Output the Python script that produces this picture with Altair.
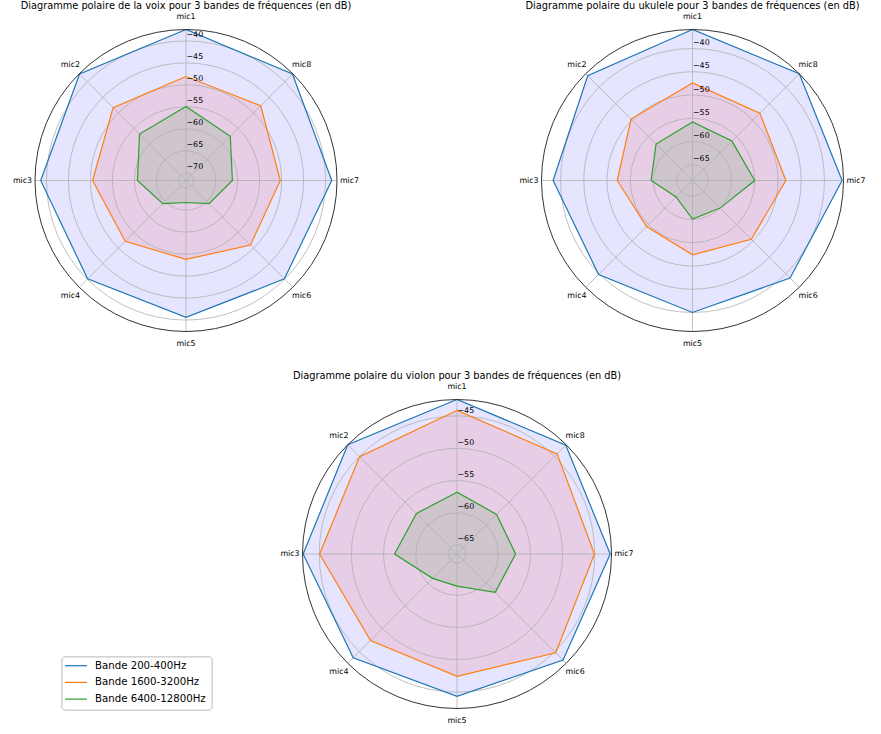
import altair as alt
import pandas as pd

# ---- data -------------------------------------------------------------
mics = ["mic1", "mic2", "mic3", "mic4", "mic5", "mic6", "mic7", "mic8"]
bands = ["Bande 200-400Hz", "Bande 1600-3200Hz", "Bande 6400-12800Hz"]
titles = [
    "Diagramme polaire de la voix pour 3 bandes de fréquences (en dB)",
    "Diagramme polaire du ukulele pour 3 bandes de fréquences (en dB)",
    "Diagramme polaire du violon pour 3 bandes de fréquences (en dB)",
]

# niveaux en dB, de mic1 à mic8
voix_200_400 = [-37.4, -37.5, -38.7, -40.1, -40.6, -40.1, -38.6, -37.5]
voix_1600_3200 = [-48.1, -48.3, -50.5, -52.2, -53.8, -51.0, -50.3, -47.7]
voix_6400_12800 = [-54.9, -56.8, -60.7, -64.3, -66.75, -64.3, -61.2, -57.5]

ukulele_200_400 = [-35.9, -36.5, -38.4, -39.8, -40.0, -38.7, -36.2, -35.9]
ukulele_1600_3200 = [-47.4, -49.7, -52.2, -54.4, -52.4, -50.5, -48.3, -47.9]
ukulele_6400_12800 = [-55.8, -57.3, -59.5, -63.4, -60.1, -60.0, -55.0, -56.4]

violon_200_400 = [-42.4, -42.4, -42.5, -43.6, -44.3, -43.1, -42.6, -42.5]
violon_1600_3200 = [-44.1, -45.0, -45.05, -47.4, -47.4, -44.7, -45.05, -44.4]
violon_6400_12800 = [-56.8, -57.5, -56.7, -61.05, -61.4, -58.0, -57.3, -57.7]

radial_ticks = [
    [-70, -65, -60, -55, -50, -45, -40],
    [-65, -60, -55, -50, -45, -40],
    [-65, -60, -55, -50, -45],
]

levels = [
    [voix_200_400, voix_1600_3200, voix_6400_12800],
    [ukulele_200_400, ukulele_1600_3200, ukulele_6400_12800],
    [violon_200_400, violon_1600_3200, violon_6400_12800],
]

# ---- layout -----------------------------------------------------------
W, H = 881, 734
centers = [(186, 180.5), (692.5, 180.5), (457, 554)]
radii = [151, 151, 154.5]
line_colors = ["#1f77b4", "#ff7f0e", "#2ca02c"]
fill_colors = ["#0000ff", "#ff0000", "#008000"]
FONT = "DejaVu Sans"

poly_rows, ring_rows, spoke_rows, panel_rows = [], [], [], []
for p, series in enumerate(levels):
    vmin = min(min(s) for s in series)
    vmax = max(max(s) for s in series)
    geo = dict(panel=p, cx=centers[p][0], cy=centers[p][1], R=radii[p],
               rmin=vmin - 5, rmax=vmax)
    for band, vals in zip(bands, series):
        for i, (m, v) in enumerate(zip(mics, vals)):
            poly_rows.append(dict(geo, band=band, mic=m, idx=i, value=v))
    for t in radial_ticks[p]:
        ring_rows.append(dict(geo, tick=t, label="\u2212" + str(abs(t))))
    for i, m in enumerate(mics):
        spoke_rows.append(dict(geo, mic=m, idx=i))
    panel_rows.append(dict(geo, title=titles[p]))

poly = pd.DataFrame(poly_rows)
rings = pd.DataFrame(ring_rows)
spokes = pd.DataFrame(spoke_rows)
panels = pd.DataFrame(panel_rows)
legend_df = pd.DataFrame({"band": bands, "row": range(len(bands))})


def X(field):
    return alt.X(f"{field}:Q", scale=alt.Scale(domain=[0, W], nice=False, zero=False), axis=None)


def Y(field):
    return alt.Y(f"{field}:Q", scale=alt.Scale(domain=[0, H], nice=False, zero=False, reverse=True), axis=None)


band_stroke = alt.Stroke("band:N", scale=alt.Scale(domain=bands, range=line_colors), legend=None)

polar = dict(
    r="(datum.value - datum.rmin) / (datum.rmax - datum.rmin) * datum.R",
    th="datum.idx * PI / 4",
    px="datum.cx - datum.r * sin(datum.th)",
    py="datum.cy - datum.r * cos(datum.th)",
)

# filled polygons (under the grid)
fills = alt.Chart(poly).transform_calculate(**polar).mark_line(
    interpolate="linear-closed", fillOpacity=0.1, strokeOpacity=0
).encode(
    x=X("px"), y=Y("py"),
    fill=alt.Fill("band:N", scale=alt.Scale(domain=bands, range=fill_colors), legend=None),
    detail="panel:N",
    order=alt.Order("idx:Q"),
)

# concentric grid circles
ring_marks = alt.Chart(rings).transform_calculate(
    rr="(datum.tick - datum.rmin) / (datum.rmax - datum.rmin) * datum.R",
    sz="pow(2 * datum.rr, 2)",
).mark_point(shape="circle", filled=False, stroke="#b0b0b0", strokeWidth=0.8, opacity=1).encode(
    x=X("cx"), y=Y("cy"), size=alt.Size("sz:Q", scale=None)
)

# angular grid lines
spoke_marks = alt.Chart(spokes).transform_calculate(
    th="datum.idx * PI / 4",
    ex="datum.cx - datum.R * sin(datum.th)",
    ey="datum.cy - datum.R * cos(datum.th)",
).mark_rule(stroke="#b0b0b0", strokeWidth=0.8).encode(
    x=X("cx"), y=Y("cy"), x2=alt.X2("ex:Q"), y2=alt.Y2("ey:Q")
)

# series outlines
lines = alt.Chart(poly).transform_calculate(**polar).mark_line(
    interpolate="linear-closed", strokeWidth=1.2
).encode(
    x=X("px"), y=Y("py"),
    stroke=band_stroke,
    detail="panel:N",
    order=alt.Order("idx:Q"),
)

# outer frame of each polar plot
outer = alt.Chart(panels).transform_calculate(sz="pow(2 * datum.R, 2)").mark_point(
    shape="circle", filled=False, stroke="#333333", strokeWidth=1, opacity=1
).encode(x=X("cx"), y=Y("cy"), size=alt.Size("sz:Q", scale=None))

# radial tick labels along the mic1 direction
ring_labels = alt.Chart(rings).transform_calculate(
    rr="(datum.tick - datum.rmin) / (datum.rmax - datum.rmin) * datum.R",
    lx="datum.cx + 0.5",
    ly="datum.cy - datum.rr - 5.5",
).mark_text(align="left", baseline="middle", font=FONT, fontSize=7.9, color="black").encode(
    x=X("lx"), y=Y("ly"), text="label:N"
)

# microphone labels around each plot
mic_labels = alt.Chart(spokes).transform_calculate(
    th="datum.idx * PI / 4",
    lx="datum.cx - (datum.R + 12.5) * sin(datum.th)",
    ly="datum.cy - (datum.R + 12.5) * cos(datum.th)",
).mark_text(align="center", baseline="middle", font=FONT, fontSize=7.9, color="black").encode(
    x=X("lx"), y=Y("ly"), text="mic:N"
)

# plot titles
title_marks = alt.Chart(panels).transform_calculate(
    ty="datum.cy - datum.R - 24"
).mark_text(align="center", baseline="middle", font=FONT, fontSize=9.8, color="black").encode(
    x=X("cx"), y=Y("ty"), text="title:N"
)

# legend (lower left): frame, line swatches and labels
LEG_X, LEG_Y, LEG_W, LEG_H, LEG_ROW = 62, 657, 150, 53, 16.7
legend_box = alt.Chart(legend_df).mark_rect(
    fill="white", stroke="#cccccc", strokeWidth=1, cornerRadius=3
).encode(
    x=alt.value(LEG_X), x2=alt.value(LEG_X + LEG_W),
    y=alt.value(LEG_Y), y2=alt.value(LEG_Y + LEG_H),
)
legend_lines = alt.Chart(legend_df).transform_calculate(
    sx0=f"{LEG_X + 3}", sx1=f"{LEG_X + 25}", sy=f"{LEG_Y + 8.7} + datum.row * {LEG_ROW}"
).mark_rule(strokeWidth=1.2).encode(
    x=X("sx0"), x2=alt.X2("sx1:Q"), y=Y("sy"), stroke=band_stroke
)
legend_text = alt.Chart(legend_df).transform_calculate(
    tx=f"{LEG_X + 33}", ty=f"{LEG_Y + 8.7} + datum.row * {LEG_ROW}"
).mark_text(align="left", baseline="middle", font=FONT, fontSize=10.2, color="black").encode(
    x=X("tx"), y=Y("ty"), text="band:N"
)

chart = alt.layer(
    fills, ring_marks, spoke_marks, lines, outer, ring_labels, mic_labels, title_marks,
    legend_box, legend_lines, legend_text,
).properties(
    width=W, height=H, padding=0, autosize=alt.AutoSizeParams(type="none"), background="white"
).configure_view(stroke=None)

chart.save("out.html", embed_options={"renderer": "svg", "actions": False})
